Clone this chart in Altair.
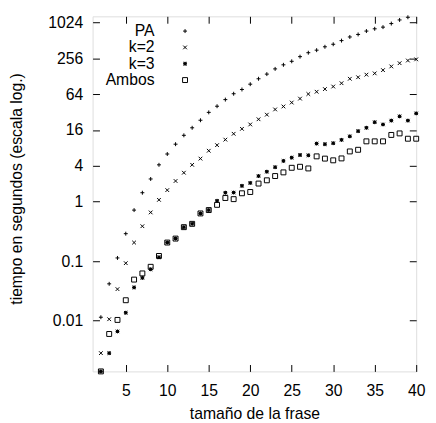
import altair as alt
import pandas as pd

# ---- data ----
x_pa = list(range(2, 40))
pa = [0.0114, 0.0415, 0.113, 0.289, 0.72, 1.41, 2.40, 4.15, 6.31, 9.23, 13.0, 17.4, 23.3,
      31.6, 40.1, 51.8, 65.0, 76.6, 94.1, 116, 139, 170, 199, 228, 273, 318, 351, 400, 441,
      508, 585, 645, 735, 802, 856, 982, 1130, 1253]

x_all = list(range(2, 41))
k2 = [0.00284, 0.01055, 0.0338, 0.0923, 0.205, 0.386, 0.658, 1.07, 1.56, 2.22, 3.06, 4.15,
      5.28, 7.16, 8.89, 11.0, 13.8, 16.7, 19.8, 24.2, 28.9, 35.4, 39.7, 46.2, 53.8, 64.3, 70.2,
      77.8, 85.9, 97.7, 116, 123, 136, 143, 162, 187, 212, 235, 246]
k3 = [0.0014, 0.00284, 0.00658, 0.01355, 0.0361, 0.0522, 0.0729, 0.116, 0.205, 0.239, 0.372,
      0.423, 0.633, 0.721, 1.03, 1.41, 1.42, 1.84, 2.06, 2.69, 3.18, 3.79, 4.83, 5.48, 6.07,
      6.0, 9.45, 9.23, 9.59, 10.9, 12.5, 15.3, 17.4, 21.6, 19.8, 23.0, 27.1, 23.0, 30.4]
ambos = [0.0014, 0.00596, 0.01027, 0.022, 0.0489, 0.0621, 0.0802, 0.122, 0.205, 0.239, 0.372,
         0.423, 0.633, 0.721, 0.882, 1.15, 1.10, 1.38, 1.45, 2.01, 2.28, 2.69, 3.10, 3.70, 3.85,
         3.61, 5.76, 5.28, 4.94, 5.32, 6.97, 7.43, 10.3, 10.3, 10.3, 13.2, 14.0, 11.4, 11.4]

series_names = ["PA", "k=2", "k=3", "Ambos"]
x_ticks = [5, 10, 15, 20, 25, 30, 35, 40]
y_ticks = [0.01, 0.1, 1, 4, 16, 64, 256, 1024]

rows = []
for xs, ys, name in [(x_pa, pa, "PA"), (x_all, k2, "k=2"), (x_all, k3, "k=3"), (x_all, ambos, "Ambos")]:
    for xv, yv in zip(xs, ys):
        rows.append({"n": xv, "t": yv, "serie": name})
df = pd.DataFrame(rows)

# ---- styling ----
FONT = "Liberation Sans"
shape_paths = [
    "M-0.8,0L0.8,0M0,-0.8L0,0.8",
    "M-0.75,-0.75L0.75,0.75M-0.75,0.75L0.75,-0.75",
    "M-0.8,0L0.8,0M0,-0.8L0,0.8M-0.7,-0.7L0.7,0.7M-0.7,0.7L0.7,-0.7M-0.4,-0.4L0.4,-0.4L0.4,0.4L-0.4,0.4Z",
    "M-1,-1L1,-1L1,1L-1,1Z",
]
tick_style = dict(grid=True, gridDash=[7, 2000], gridColor="black", gridOpacity=1, gridWidth=1,
                  ticks=False, domain=False)

xscale = alt.Scale(domain=[1, 40], nice=False, zero=False)
yscale = alt.Scale(type="log", domain=[0.0014, 1300], nice=False)

main = alt.Chart(df).mark_point(size=25, strokeWidth=1, color="black", opacity=1, filled=False).encode(
    x=alt.X("n:Q", scale=xscale,
            axis=alt.Axis(orient="bottom", values=x_ticks, format="d", title="tamaño de la frase",
                          labelPadding=11, titlePadding=8, labelFontSize=16, titleFontSize=16,
                          titleFontWeight="normal", labelColor="black", titleColor="black",
                          labelFlush=False, labelOverlap=False, labelFont=FONT, titleFont=FONT,
                          **tick_style)),
    y=alt.Y("t:Q", scale=yscale,
            axis=alt.Axis(orient="left", values=y_ticks, format="~g",
                          title="tiempo en segundos (escala log.)", titleX=-69, titleY=175,
                          labelPadding=10, labelFontSize=16, titleFontSize=16,
                          titleFontWeight="normal", labelColor="black", titleColor="black",
                          labelOverlap=False, labelFont=FONT, titleFont=FONT, **tick_style)),
    shape=alt.Shape("serie:N", scale=alt.Scale(domain=series_names, range=shape_paths),
                    legend=alt.Legend(orient="none", legendX=86, legendY=7, title=None,
                                      labelFontSize=16, labelFont=FONT, labelColor="black",
                                      labelAlign="right", labelOffset={"expr": "-39"},
                                      symbolOffset=0,
                                      symbolSize=25, symbolStrokeColor="black",
                                      symbolStrokeWidth=1, symbolFillColor="transparent",
                                      rowPadding=0.6, padding=0)),
)

mirror = alt.Chart(df).mark_point(opacity=0).encode(
    x=alt.X("n:Q", scale=xscale,
            axis=alt.Axis(orient="top", values=x_ticks, labels=False, title=None, **tick_style)),
    y=alt.Y("t:Q", scale=yscale,
            axis=alt.Axis(orient="right", values=y_ticks, labels=False, title=None, **tick_style)),
)

chart = alt.layer(main, mirror).resolve_axis(x="independent", y="independent").properties(
    width=329, height=361,
    padding={"left": 86, "top": 5, "right": 12, "bottom": 50},
    autosize=alt.AutoSizeParams(type="none"),
).configure_view(stroke="black", strokeWidth=1).configure(font=FONT)

chart.save("out.html", embed_options={"renderer": "svg", "actions": False})
